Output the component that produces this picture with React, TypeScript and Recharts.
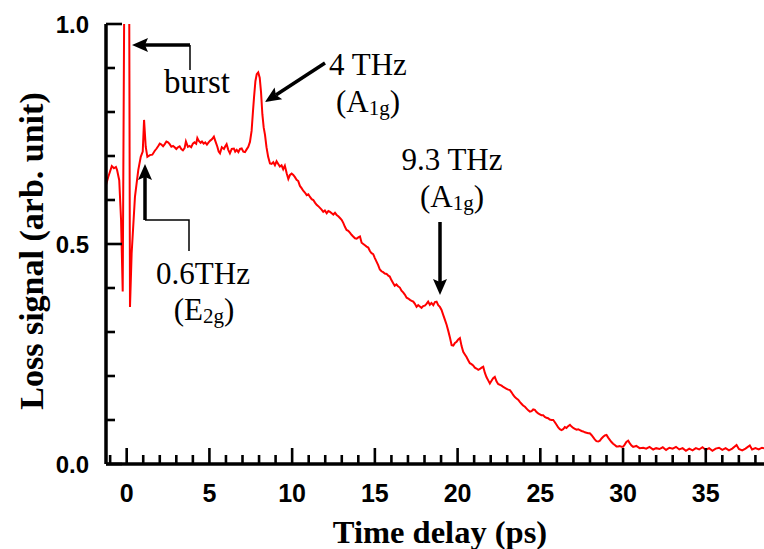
import { LineChart, Line, XAxis, YAxis } from 'recharts';

// time delay (ps) and loss signal (arb. unit)
const time = [
  -1.25, -1.11, -0.9, -0.77, -0.65, -0.58, -0.45, -0.34, -0.24, -0.1,
  0.0, 0.13, 0.2, 0.3, 0.5, 0.7, 0.85, 0.97, 1.05, 1.15,
  1.25, 1.4, 1.55, 1.7, 1.81, 1.9, 2.0, 2.1, 2.2, 2.3,
  2.4, 2.5, 2.6, 2.7, 2.8, 2.9, 3.0, 3.1, 3.2, 3.3,
  3.4, 3.5, 3.58, 3.7, 3.8, 3.9, 4.0, 4.1, 4.2, 4.27,
  4.35, 4.47, 4.55, 4.65, 4.75, 4.85, 4.95, 5.05, 5.15, 5.27,
  5.35, 5.48, 5.56, 5.64, 5.75, 5.88, 5.96, 6.04, 6.14, 6.24,
  6.35, 6.48, 6.56, 6.65, 6.75, 6.85, 6.95, 7.05, 7.15, 7.25,
  7.35, 7.45, 7.55, 7.63, 7.7, 7.78, 7.86, 7.95, 8.04, 8.12,
  8.2, 8.28, 8.36, 8.45, 8.55, 8.66, 8.76, 8.86, 8.96, 9.06,
  9.16, 9.26, 9.36, 9.46, 9.56, 9.67, 9.77, 9.87, 9.97, 10.07,
  10.17, 10.27, 10.37, 10.47, 10.57, 10.67, 10.77, 10.88, 10.98, 11.08,
  11.18, 11.28, 11.38, 11.48, 11.58, 11.68, 11.78, 11.88, 11.98, 12.09,
  12.19, 12.29, 12.39, 12.49, 12.59, 12.69, 12.79, 12.89, 12.99, 13.09,
  13.19, 13.29, 13.39, 13.49, 13.59, 13.69, 13.8, 13.9, 14.0, 14.1,
  14.2, 14.3, 14.4, 14.5, 14.6, 14.7, 14.8, 14.9, 15.0, 15.1,
  15.2, 15.3, 15.4, 15.5, 15.6, 15.71, 15.81, 15.9, 16.0, 16.11,
  16.2, 16.3, 16.4, 16.51, 16.61, 16.71, 16.81, 16.92, 17.02, 17.12,
  17.22, 17.32, 17.42, 17.52, 17.62, 17.72, 17.82, 17.92, 18.02, 18.12,
  18.22, 18.32, 18.42, 18.53, 18.63, 18.73, 18.83, 18.93, 19.03, 19.13,
  19.23, 19.34, 19.44, 19.54, 19.64, 19.74, 19.84, 19.94, 20.04, 20.14,
  20.24, 20.34, 20.44, 20.54, 20.64, 20.74, 20.84, 20.94, 21.04, 21.14,
  21.25, 21.35, 21.45, 21.55, 21.65, 21.75, 21.85, 21.95, 22.05, 22.15,
  22.25, 22.35, 22.45, 22.56, 22.66, 22.76, 22.86, 22.96, 23.06, 23.16,
  23.26, 23.36, 23.46, 23.56, 23.66, 23.76, 23.86, 23.96, 24.07, 24.17,
  24.27, 24.37, 24.47, 24.57, 24.67, 24.77, 24.87, 24.97, 25.07, 25.17,
  25.27, 25.37, 25.47, 25.57, 25.68, 25.78, 25.88, 25.98, 26.08, 26.18,
  26.28, 26.38, 26.48, 26.58, 26.68, 26.79, 26.89, 26.99, 27.09, 27.19,
  27.29, 27.39, 27.49, 27.59, 27.69, 27.79, 27.89, 27.99, 28.09, 28.19,
  28.29, 28.39, 28.5, 28.6, 28.7, 28.8, 28.9, 29.0, 29.1, 29.2,
  29.3, 29.4, 29.5, 29.6, 29.7, 29.8, 29.9, 30.0, 30.1, 30.2,
  30.31, 30.41, 30.51, 30.61, 30.8, 31.0, 31.22, 31.4, 31.6, 31.82,
  32.0, 32.2, 32.4, 32.6, 32.8, 33.0, 33.2, 33.4, 33.6, 33.8,
  34.0, 34.2, 34.4, 34.6, 34.8, 35.0, 35.2, 35.4, 35.6, 35.8,
  36.0, 36.2, 36.4, 36.6, 36.86, 37.0, 37.2, 37.4, 37.66, 37.8,
  38.0, 38.2, 38.4, 38.7,
];

const signal = [
  0.634, 0.653, 0.677, 0.672, 0.675, 0.668, 0.645, 0.555, 0.392, 1.4,
  1.5, 1.4, 0.357, 0.479, 0.607, 0.668, 0.698, 0.71, 0.782, 0.721,
  0.698, 0.702, 0.703, 0.712, 0.717, 0.722, 0.728, 0.726, 0.722, 0.727,
  0.733, 0.731, 0.727, 0.721, 0.723, 0.72, 0.716, 0.72, 0.722, 0.716,
  0.713, 0.718, 0.733, 0.721, 0.723, 0.72, 0.728, 0.731, 0.728, 0.741,
  0.735, 0.73, 0.733, 0.728, 0.731, 0.726, 0.731, 0.735, 0.738, 0.744,
  0.735, 0.721, 0.71, 0.706, 0.72, 0.716, 0.722, 0.727, 0.714, 0.706,
  0.716, 0.717, 0.71, 0.714, 0.709, 0.716, 0.717, 0.71, 0.709, 0.715,
  0.721, 0.732, 0.757, 0.8, 0.835, 0.87, 0.886, 0.89, 0.878, 0.845,
  0.795, 0.765, 0.748, 0.72, 0.698, 0.683, 0.682, 0.686, 0.679, 0.688,
  0.682, 0.676, 0.679, 0.67, 0.678, 0.661, 0.648, 0.657, 0.66, 0.657,
  0.652, 0.646, 0.643, 0.632, 0.627, 0.621, 0.617, 0.611, 0.613, 0.607,
  0.602, 0.6, 0.594, 0.589, 0.586, 0.582, 0.578, 0.573, 0.576, 0.57,
  0.575, 0.573, 0.57, 0.567, 0.571, 0.566, 0.563, 0.559, 0.555, 0.548,
  0.539, 0.532, 0.53, 0.526, 0.521, 0.517, 0.513, 0.512, 0.515, 0.517,
  0.503, 0.5, 0.497, 0.494, 0.492, 0.484, 0.479, 0.477, 0.468, 0.46,
  0.452, 0.442, 0.438, 0.436, 0.433, 0.432, 0.428, 0.426, 0.418, 0.411,
  0.405, 0.408, 0.404, 0.401, 0.394, 0.39, 0.385, 0.378, 0.376, 0.373,
  0.371, 0.369, 0.364, 0.357, 0.361, 0.358, 0.355, 0.359, 0.36, 0.364,
  0.369, 0.362, 0.366, 0.361, 0.368, 0.369, 0.361, 0.357, 0.35, 0.339,
  0.328, 0.316, 0.302, 0.287, 0.27, 0.269, 0.275, 0.278, 0.283, 0.286,
  0.268, 0.255, 0.249, 0.243, 0.236, 0.229, 0.227, 0.224, 0.219, 0.217,
  0.214, 0.216, 0.219, 0.221, 0.207, 0.197, 0.19, 0.183, 0.189, 0.195,
  0.198, 0.188, 0.182, 0.18, 0.178, 0.175, 0.173, 0.171, 0.169, 0.168,
  0.163, 0.157, 0.152, 0.149, 0.146, 0.141, 0.137, 0.133, 0.13, 0.126,
  0.122, 0.119, 0.12, 0.124, 0.123, 0.118, 0.115, 0.113, 0.111, 0.111,
  0.107, 0.105, 0.104, 0.101, 0.1, 0.1, 0.095, 0.089, 0.083, 0.079,
  0.077, 0.079, 0.084, 0.082, 0.086, 0.089, 0.085, 0.082, 0.08, 0.078,
  0.079, 0.077, 0.075, 0.074, 0.072, 0.071, 0.07, 0.07, 0.066, 0.061,
  0.056, 0.052, 0.051, 0.053, 0.058, 0.062, 0.065, 0.066, 0.06, 0.055,
  0.05, 0.046, 0.043, 0.04, 0.04, 0.041, 0.039, 0.039, 0.044, 0.05,
  0.053, 0.047, 0.042, 0.039, 0.041, 0.036, 0.037, 0.035, 0.039, 0.033,
  0.036, 0.034, 0.038, 0.032, 0.037, 0.035, 0.039, 0.033, 0.036, 0.03,
  0.035, 0.031, 0.036, 0.033, 0.038, 0.032, 0.036, 0.03, 0.035, 0.037,
  0.032, 0.036, 0.031, 0.035, 0.043, 0.034, 0.031, 0.035, 0.042, 0.033,
  0.036, 0.033, 0.037, 0.034,
];

const xTicks = [
  -1, 0, 1, 2, 3, 4, 5, 6, 7, 8, 9, 10, 11, 12, 13, 14, 15, 16, 17, 18, 19,
  20, 21, 22, 23, 24, 25, 26, 27, 28, 29, 30, 31, 32, 33, 34, 35, 36, 37, 38,
];
const yTicks = [0, 0.1, 0.2, 0.3, 0.4, 0.5, 0.6, 0.7, 0.8, 0.9, 1.0];

const data = time.map((t, i) => ({ t, v: signal[i] }));

const sansBold = { fontFamily: '"Liberation Sans", Arial, sans-serif', fontWeight: 700, fill: '#000' };
const serif = '"Liberation Serif", "Times New Roman", serif';

const isMajorX = (v: number) => v % 5 === 0;
const isMajorY = (v: number) => Math.round(v * 10) % 5 === 0;

const BottomTick = (props: any) => {
  const { x, y, payload } = props;
  const major = isMajorX(payload.value);
  return (
    <g>
      <line x1={x} x2={x} y1={y} y2={y - (major ? 16 : 9)} stroke="#000" strokeWidth={2.6} />
      {major && (
        <text x={x} y={y + 38} textAnchor="middle" fontSize={25} {...sansBold}>{payload.value}</text>
      )}
    </g>
  );
};

const TopTick = (props: any) => {
  const { x, y, payload } = props;
  const major = isMajorX(payload.value);
  return <line x1={x} x2={x} y1={y} y2={y + (major ? 16 : 9)} stroke="#000" strokeWidth={2.6} />;
};

const LeftTick = (props: any) => {
  const { x, y, payload } = props;
  const major = isMajorY(payload.value);
  return (
    <g>
      <line x1={x} x2={x + (major ? 16 : 9)} y1={y} y2={y} stroke="#000" strokeWidth={2.6} />
      {major && (
        <text x={x - 17} y={y + 8.5} textAnchor="end" fontSize={24} {...sansBold}>{payload.value.toFixed(1)}</text>
      )}
    </g>
  );
};

const RightTick = (props: any) => {
  const { x, y, payload } = props;
  const major = isMajorY(payload.value);
  return <line x1={x} x2={x - (major ? 16 : 9)} y1={y} y2={y} stroke="#000" strokeWidth={2.6} />;
};

function Arrow({ x1, y1, x2, y2 }: { x1: number; y1: number; y2: number; x2: number }) {
  const dx = x2 - x1;
  const dy = y2 - y1;
  const len = Math.hypot(dx, dy);
  const ux = dx / len;
  const uy = dy / len;
  const headL = 16;
  const headW = 7;
  const bx = x2 - ux * headL;
  const by = y2 - uy * headL;
  const nx = bx + ux * 3;
  const ny = by + uy * 3;
  return (
    <g>
      <line x1={x1} y1={y1} x2={nx} y2={ny} stroke="#000" strokeWidth={3.5} />
      <polygon
        points={`${x2},${y2} ${bx - uy * headW},${by + ux * headW} ${nx},${ny} ${bx + uy * headW},${by - ux * headW}`}
        fill="#000"
      />
    </g>
  );
}

const Annotations = () => (
  <svg width={764} height={549} style={{ position: 'absolute', left: 0, top: 0, pointerEvents: 'none' }}>
    {/* burst */}
    <Arrow x1={190} y1={45} x2={132} y2={45} />
    <line x1={190} y1={45} x2={190} y2={70} stroke="#000" strokeWidth={1.5} />
    <text x={197} y={93} textAnchor="middle" fontFamily={serif} fontSize={33}>burst</text>

    {/* 4 THz */}
    <Arrow x1={325} y1={63} x2={265} y2={102} />
    <text x={368} y={75} textAnchor="middle" fontFamily={serif} fontSize={31}>4 THz</text>
    <text x={368} y={112} textAnchor="middle" fontFamily={serif} fontSize={31}>
      (A<tspan fontSize={21} dy={3}>1g</tspan><tspan dy={-3}>)</tspan>
    </text>

    {/* 9.3 THz */}
    <Arrow x1={440} y1={222} x2={440} y2={295} />
    <text x={452} y={170} textAnchor="middle" fontFamily={serif} fontSize={31}>9.3 THz</text>
    <text x={452} y={207} textAnchor="middle" fontFamily={serif} fontSize={31}>
      (A<tspan fontSize={21} dy={3}>1g</tspan><tspan dy={-3}>)</tspan>
    </text>

    {/* 0.6 THz */}
    <Arrow x1={145} y1={220} x2={145} y2={164} />
    <polyline points="145,220 189,220 189,251" fill="none" stroke="#000" strokeWidth={1.5} />
    <text x={203} y={284} textAnchor="middle" fontFamily={serif} fontSize={31}>0.6THz</text>
    <text x={204} y={320} textAnchor="middle" fontFamily={serif} fontSize={31}>
      (E<tspan fontSize={21} dy={3}>2g</tspan><tspan dy={-3}>)</tspan>
    </text>

    {/* axis titles */}
    <text x={440} y={543} textAnchor="middle" fontFamily={serif} fontWeight={700} fontSize={32.5}>Time delay (ps)</text>
    <text
      transform="translate(43,251) rotate(-90)"
      textAnchor="middle"
      fontFamily={serif}
      fontWeight={700}
      fontSize={34}
    >
      Loss signal (arb. unit)
    </text>
  </svg>
);

export default function App() {
  return (
    <div style={{ position: 'absolute', left: 0, top: 0, width: 764, height: 549, overflow: 'hidden', background: '#fff' }}>
      <LineChart width={770} height={549} data={data} margin={{ top: 24, right: 3, bottom: 0, left: 0 }}>
        <XAxis
          xAxisId="bottom"
          dataKey="t"
          type="number"
          domain={[-1.25, 38.7]}
          allowDataOverflow
          ticks={xTicks}
          interval={0}
          height={85}
          tickSize={0}
          tickMargin={0}
          tickLine={false}
          tick={<BottomTick />}
          axisLine={{ stroke: '#000', strokeWidth: 3.5 }}
        />
        <XAxis
          xAxisId="top"
          orientation="top"
          dataKey="t"
          type="number"
          domain={[-1.25, 38.7]}
          allowDataOverflow
          ticks={xTicks}
          interval={0}
          height={0}
          tickSize={0}
          tickMargin={0}
          tickLine={false}
          tick={<TopTick />}
          axisLine={{ stroke: '#000', strokeWidth: 3.5 }}
        />
        <YAxis
          yAxisId="left"
          type="number"
          domain={[0, 1]}
          allowDataOverflow
          ticks={yTicks}
          interval={0}
          width={106}
          tickSize={0}
          tickMargin={0}
          tickLine={false}
          tick={<LeftTick />}
          axisLine={{ stroke: '#000', strokeWidth: 3.5 }}
        />
        <YAxis
          yAxisId="right"
          orientation="right"
          type="number"
          domain={[0, 1]}
          allowDataOverflow
          ticks={yTicks}
          interval={0}
          width={0}
          tickSize={0}
          tickMargin={0}
          tickLine={false}
          tick={<RightTick />}
          axisLine={{ stroke: '#000', strokeWidth: 3.5 }}
        />
        <Line
          xAxisId="bottom"
          yAxisId="left"
          dataKey="v"
          type="linear"
          stroke="#ff0000"
          strokeWidth={2}
          dot={false}
          isAnimationActive={false}
        />
      </LineChart>
      <Annotations />
    </div>
  );
}
